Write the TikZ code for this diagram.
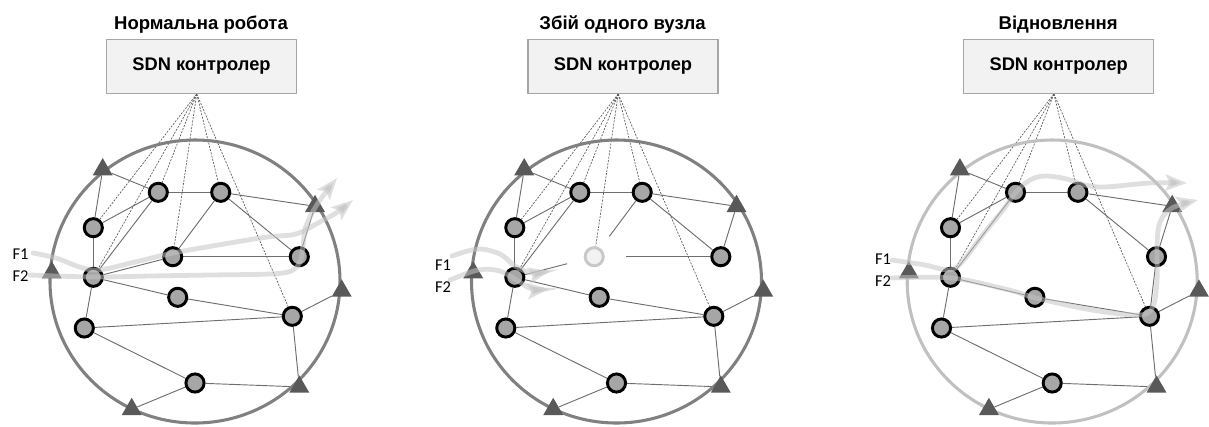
\documentclass[tikz,border=0pt]{standalone}
\usepackage{fontspec}
\setmainfont{Liberation Sans}
\newfontfamily\flowfont{Carlito}
\usetikzlibrary{shapes.geometric,arrows.meta,calc}

\definecolor{ringdark}{HTML}{808080}
\definecolor{ringlight}{HTML}{C0C0C0}
\definecolor{nodefill}{HTML}{A6A6A6}
\definecolor{linkgray}{HTML}{6E6E6E}
\definecolor{ctrlfill}{HTML}{F2F2F2}
\definecolor{ctrlline}{HTML}{A6A6A6}
\definecolor{trifill}{HTML}{595959}
\definecolor{flowgray}{HTML}{C4C4C4}
\definecolor{downline}{HTML}{C8C8C8}

\pgfdeclarelayer{back}
\pgfsetlayers{back,main}

\tikzset{
  paneltitle/.style={anchor=base, font=\bfseries\fontsize{13.9}{16}\selectfont, inner sep=0pt},
  ctrl/.style={draw=ctrlline, fill=ctrlfill, line width=0.8pt, minimum width=142.5pt,
    minimum height=40.5pt, inner sep=0pt, font=\bfseries\fontsize{13.7}{16}\selectfont},
  sw/.style={circle, draw=black, line width=2.2pt, fill=nodefill, minimum size=13.6pt, inner sep=0pt},
  swdown/.style={circle, draw=downline, line width=2.2pt, fill=ctrlfill, minimum size=13.6pt, inner sep=0pt},
  tri/.style={regular polygon, regular polygon sides=3, fill=trifill, draw=none,
    minimum size=17.3pt, inner sep=0pt},
  ring/.style={line width=2.3pt},
  link/.style={draw=linkgray, line width=0.7pt},
  ctlink/.style={draw=black!65, line width=0.5pt, dash pattern=on 1.5pt off 1pt},
  flow/.style={draw=flowgray, line width=3.6pt, opacity=0.55, line cap=round,
    -{Stealth[length=16pt, width=12pt, inset=3pt]}},
  flowlabel/.style={font=\flowfont\fontsize{12.4}{14}\selectfont, inner sep=0pt},
}

% common part of one network panel: title, controller, ring, switches, edge triangles
\newcommand\netbase[4]{%
  \begin{scope}[shift={(#2,0)}]
    \node[paneltitle] (#1title) at (201,29.3) {#3};
    \node[ctrl] (#1ctrl) at (201.5,66.5) {SDN контролер};
    \coordinate (#1apex) at (196.7,94);
    \draw[ring, draw=#4] (195,281.5) ellipse [x radius=145, y radius=141.5];
    \node[sw] (#1A) at (158.3,192.3) {};
    \node[sw] (#1B) at (220.7,192.3) {};
    \node[sw] (#1C) at (93.3,227.7) {};
    \node[sw] (#1E) at (299.3,256.7) {};
    \node[sw] (#1F) at (93.3,277.3) {};
    \node[sw] (#1G) at (177.7,297.3) {};
    \node[sw] (#1H) at (292.3,316.3) {};
    \node[sw] (#1I) at (84.3,328) {};
    \node[sw] (#1J) at (195,383) {};
    \node[tri] (#1T1) at (102.7,169.6) {};
    \node[tri] (#1T2) at (315,206.3) {};
    \node[tri] (#1T3) at (51.7,272.6) {};
    \node[tri] (#1T4) at (341.7,290.9) {};
    \node[tri] (#1T5) at (299.3,386.9) {};
    \node[tri] (#1T6) at (131.7,409.3) {};
  \end{scope}}

% links shared by all three panels
\newcommand\netlinks[1]{%
  \begin{pgfonlayer}{back}
    \foreach \u/\v in {T1/A, T1/C, A/B, A/C, A/F, B/T2, B/E, E/T2, C/F,
                       F/G, G/H, F/I, I/H, H/T4, H/T5, I/J, J/T5, J/T6}
      \draw[link] (#1\u) -- (#1\v);
    \foreach \v in {C, F, A, B, H}
      \draw[ctlink] (#1apex) -- (#1\v);
  \end{pgfonlayer}}

\begin{document}
\begin{tikzpicture}[x=0.75pt, y=-0.75pt]
  \useasboundingbox (0,0) rectangle (1209,426);

  % ---------- normal operation ----------
  \netbase{p}{0}{Нормальна робота}{ringdark}
  \node[sw] (pD) at (172.7,256.7) {};
  \netlinks{p}
  \begin{pgfonlayer}{back}
    \draw[link] (pB) -- (pD);
    \draw[link] (pF) -- (pD);
    \draw[link] (pD) -- (pE);
    \draw[ctlink] (papex) -- (pD);
  \end{pgfonlayer}
  \draw[flow] plot[smooth, tension=0.55] coordinates {(33,253) (56,258) (93,270) (135,262)
    (173,253) (230,243) (267,237) (296,234) (318,223) (336,213) (353,200)};
  \draw[flow] plot[smooth, tension=0.55] coordinates {(30,275) (93,277) (150,276) (210,275)
    (270,274) (291,271) (300,262) (303,246) (306,226) (318,203) (337,178)};
  \node[flowlabel] (pf1) at (20.5,253.7) {F1};
  \node[flowlabel] (pf2) at (20.5,275.7) {F2};

  % ---------- single switch failure ----------
  \netbase{q}{421.5}{Збій одного вузла}{ringdark}
  \node[swdown] (qD) at (594.2,256.7) {};
  \netlinks{q}
  \begin{pgfonlayer}{back}
    \draw[link] (qB) -- ($(qD)!19pt!(qB)$);
    \draw[link] (qF) -- ($(qD)!21pt!(qF)$);
    \draw[link] ($(qD)!24pt!(qE)$) -- (qE);
    \draw[ctlink] (qapex) -- (qD);
  \end{pgfonlayer}
  \draw[flow] plot[smooth, tension=0.55] coordinates {(452,256) (478,249) (500,254)
    (515,266) (532,273) (550,271)};
  \draw[flow] plot[smooth, tension=0.55] coordinates {(450,280) (478,270) (500,271)
    (518,281) (532,289) (549,289)};
  \node[flowlabel] (qf1) at (443,264.7) {F1};
  \node[flowlabel] (qf2) at (443,287) {F2};

  % ---------- recovery ----------
  \netbase{r}{857.2}{Відновлення}{ringlight}
  \netlinks{r}
  \begin{pgfonlayer}{back}
    \draw[link] (rE) -- (rH);
  \end{pgfonlayer}
  \draw[flow] plot[smooth, tension=0.55] coordinates {(892,260) (925,265) (949,270)
    (962,262) (985,232) (1003,210) (1016,192) (1030,180) (1045,176) (1067,179)
    (1085,185) (1105,187) (1150,183) (1187,183)};
  \draw[flow] plot[smooth, tension=0.55] coordinates {(892,278) (952,278) (1009,290)
    (1036,298) (1092,310) (1140,315) (1153,306) (1157,280) (1157,245) (1160,222)
    (1172,208) (1198,200)};
  \node[flowlabel] (rf1) at (883,258.7) {F1};
  \node[flowlabel] (rf2) at (883,280.7) {F2};
\end{tikzpicture}
\end{document}
